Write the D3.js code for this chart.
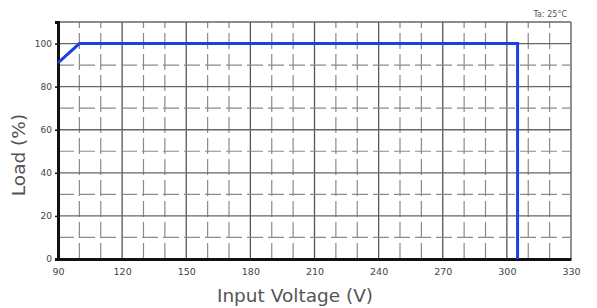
<!DOCTYPE html>
<html>
<head>
<meta charset="utf-8">
<script src="https://cdn.jsdelivr.net/npm/d3@7"></script>
<style>
  body { margin: 0; background: #fff; }
  text { font-family: 'DejaVu Sans', sans-serif; }
</style>
</head>
<body>
<script>
// derating curve
const voltage = [90, 100, 305, 305];
const load = [91, 100, 100, 0];
const xTicks = [90, 120, 150, 180, 210, 240, 270, 300, 330];
const yTicks = [0, 20, 40, 60, 80, 100];
const note = 'Ta: 25°C';

const w = 597, h = 308;
const margin = { top: 22, right: 26, bottom: 49, left: 58 };

const svg = d3.select('body').append('svg')
  .attr('width', w)
  .attr('height', h);

const xScale = d3.scaleLinear().domain([90, 330]).range([margin.left, w - margin.right]);
const yScale = d3.scaleLinear().domain([0, 110]).range([h - margin.bottom, margin.top]);

// grid: verticals every 10 V, horizontals every 10 %
const vLines = d3.range(100, 331, 10);
svg.append('g').selectAll('line')
  .data(vLines)
  .enter().append('line')
  .attr('x1', d => xScale(d)).attr('x2', d => xScale(d))
  .attr('y1', yScale(0)).attr('y2', yScale(110))
  .attr('stroke', d => d % 30 === 0 ? '#555' : '#8a8a8a')
  .attr('stroke-width', d => d % 30 === 0 ? 1.3 : 1.2)
  .attr('stroke-dasharray', d => d % 30 === 0 ? null : '16,5');

const hLines = d3.range(10, 111, 10);
svg.append('g').selectAll('line')
  .data(hLines)
  .enter().append('line')
  .attr('x1', xScale(90)).attr('x2', xScale(330))
  .attr('y1', d => yScale(d)).attr('y2', d => yScale(d))
  .attr('stroke', d => d % 20 === 0 || d === 110 ? '#666' : '#8a8a8a')
  .attr('stroke-width', d => d % 20 === 0 || d === 110 ? 1.3 : 1.2)
  .attr('stroke-dasharray', d => d % 20 === 0 || d === 110 ? null : '16,5');

// axes
const xAxis = d3.axisBottom(xScale).tickValues(xTicks).tickSize(0).tickPadding(9);
const yAxis = d3.axisLeft(yScale).tickValues(yTicks).tickSize(3).tickPadding(3);

const gx = svg.append('g')
  .attr('transform', `translate(0, ${yScale(0)})`)
  .call(xAxis);
gx.select('.domain').attr('stroke', '#111').attr('stroke-width', 3);
gx.selectAll('text').attr('font-size', 9.5).attr('fill', '#444');

const gy = svg.append('g')
  .attr('transform', `translate(${xScale(90)}, 0)`)
  .call(yAxis);
gy.select('.domain').attr('stroke', '#111').attr('stroke-width', 3);
gy.selectAll('line').attr('stroke', '#111').attr('stroke-width', 1.5);
gy.selectAll('text').attr('font-size', 9).attr('fill', '#444');

// the curve
const line = d3.line()
  .x((d, i) => xScale(voltage[i]))
  .y((d, i) => yScale(load[i]));
svg.append('path')
  .datum(voltage)
  .attr('d', line)
  .attr('fill', 'none')
  .attr('stroke', '#1d3fe6')
  .attr('stroke-width', 3);

// labels
svg.append('text')
  .attr('transform', `translate(25, 155) rotate(-90)`)
  .attr('text-anchor', 'middle')
  .attr('font-size', 18.5)
  .attr('fill', '#555')
  .text('Load (%)');

svg.append('text')
  .attr('x', 295)
  .attr('y', 302)
  .attr('text-anchor', 'middle')
  .attr('font-size', 18.5)
  .attr('fill', '#555')
  .text('Input Voltage (V)');

svg.append('text')
  .attr('x', xScale(330) - 4)
  .attr('y', margin.top - 5)
  .attr('text-anchor', 'end')
  .attr('font-size', 8)
  .attr('fill', '#555')
  .text(note);
</script>
</body>
</html>
